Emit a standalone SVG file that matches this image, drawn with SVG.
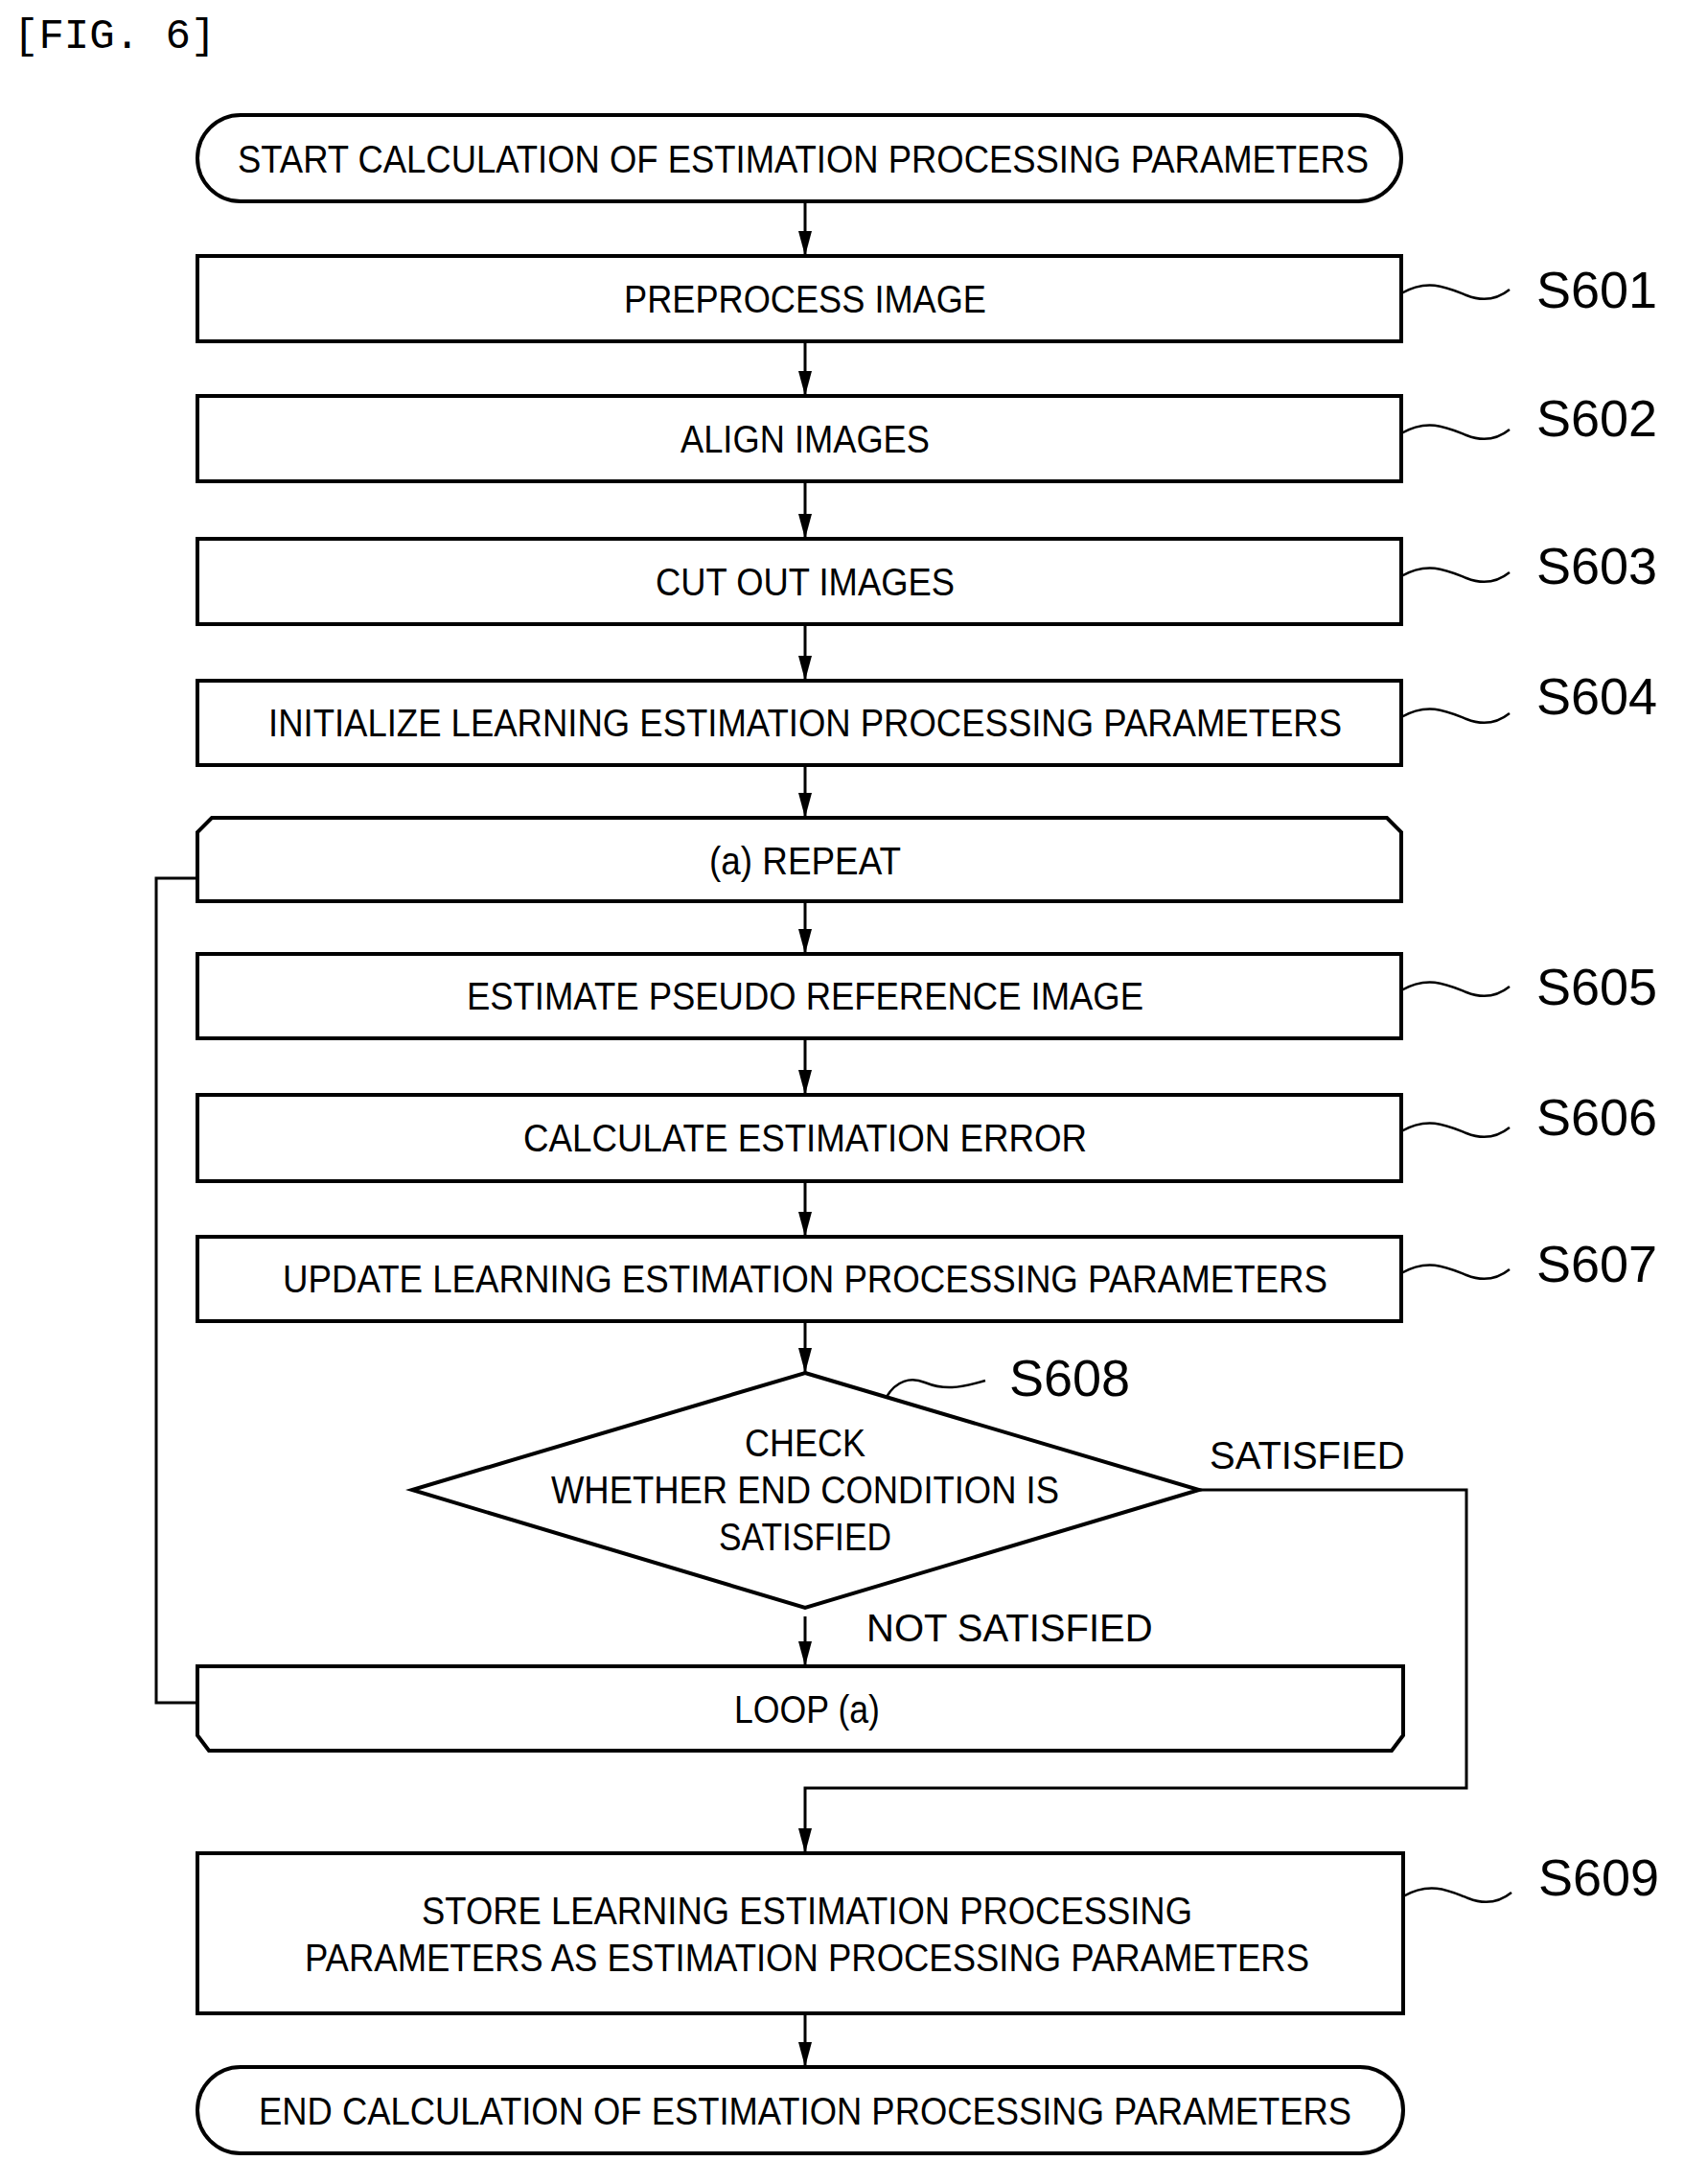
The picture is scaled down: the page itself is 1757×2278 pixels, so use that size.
<svg xmlns="http://www.w3.org/2000/svg" width="1757" height="2278" viewBox="0 0 1757 2278">
<style>
.b{fill:#fff;stroke:#000;stroke-width:4}
.t{font-family:"Liberation Sans",Arial,sans-serif;font-size:40px;text-anchor:middle;dominant-baseline:central;fill:#000}
.s{font-family:"Liberation Sans",Arial,sans-serif;font-size:54px;fill:#000;dominant-baseline:central}
.c{fill:none;stroke:#000;stroke-width:3}
.w{fill:none;stroke:#000;stroke-width:2.5}
</style>
<defs><path id="h" d="M-7,-26 L7,-26 L0,0 Z" fill="#000"/></defs>
<text x="14" y="38" style="font-family:'Liberation Mono',monospace;font-size:44px" dominant-baseline="central">[FIG. 6]</text>
<g id="connectors">
<path class="c" d="M840,210 V267"/><use href="#h" x="840" y="267"/>
<path class="c" d="M840,356 V413"/><use href="#h" x="840" y="413"/>
<path class="c" d="M840,502 V562"/><use href="#h" x="840" y="562"/>
<path class="c" d="M840,651 V710"/><use href="#h" x="840" y="710"/>
<path class="c" d="M840,798 V853"/><use href="#h" x="840" y="853"/>
<path class="c" d="M840,940 V995"/><use href="#h" x="840" y="995"/>
<path class="c" d="M840,1083 V1142"/><use href="#h" x="840" y="1142"/>
<path class="c" d="M840,1232 V1290"/><use href="#h" x="840" y="1290"/>
<path class="c" d="M840,1378 V1432"/><use href="#h" x="840" y="1432"/>
<path class="c" d="M840,1686 V1738"/><use href="#h" x="840" y="1738"/>
<path class="c" d="M206,1776 H163 V916 H206"/>
<path class="c" d="M1251,1554 H1530 V1865 H840 V1933"/><use href="#h" x="840" y="1933"/>
<path class="c" d="M840,2100 V2156"/><use href="#h" x="840" y="2156"/>
<text x="1262" y="1518" class="t" style="text-anchor:start">SATISFIED</text>
<text x="904" y="1698" class="t" style="text-anchor:start">NOT SATISFIED</text>
</g>
<g id="start"><rect class="b" x="206" y="120" width="1256" height="90" rx="45"/><text class="t" x="838" y="166" textLength="1180" lengthAdjust="spacingAndGlyphs">START CALCULATION OF ESTIMATION PROCESSING PARAMETERS</text></g>
<g id="s601"><rect class="b" x="206" y="267" width="1256" height="89"/><text class="t" x="840" y="312" textLength="378" lengthAdjust="spacingAndGlyphs">PREPROCESS IMAGE</text>
<path class="w" d="M1462,306 C1490,290 1510,300 1530,308 C1550,316 1565,310 1575,302"/><text class="s" x="1603" y="302">S601</text></g>
<g id="s602"><rect class="b" x="206" y="413" width="1256" height="89"/><text class="t" x="840" y="458" textLength="260" lengthAdjust="spacingAndGlyphs">ALIGN IMAGES</text>
<path class="w" d="M1462,452 C1490,436 1510,446 1530,454 C1550,462 1565,456 1575,448"/><text class="s" x="1603" y="436">S602</text></g>
<g id="s603"><rect class="b" x="206" y="562" width="1256" height="89"/><text class="t" x="840" y="607" textLength="312" lengthAdjust="spacingAndGlyphs">CUT OUT IMAGES</text>
<path class="w" d="M1462,601 C1490,585 1510,595 1530,603 C1550,611 1565,605 1575,597"/><text class="s" x="1603" y="590">S603</text></g>
<g id="s604"><rect class="b" x="206" y="710" width="1256" height="88"/><text class="t" x="840" y="754" textLength="1120" lengthAdjust="spacingAndGlyphs">INITIALIZE LEARNING ESTIMATION PROCESSING PARAMETERS</text>
<path class="w" d="M1462,748 C1490,732 1510,742 1530,750 C1550,758 1565,752 1575,744"/><text class="s" x="1603" y="726">S604</text></g>
<g id="repeat"><path class="b" d="M206,940 V868 L221,853 H1447 L1462,868 V940 Z"/><text class="t" x="840" y="898" textLength="200" lengthAdjust="spacingAndGlyphs">(a) REPEAT</text></g>
<g id="s605"><rect class="b" x="206" y="995" width="1256" height="88"/><text class="t" x="840" y="1039" textLength="706" lengthAdjust="spacingAndGlyphs">ESTIMATE PSEUDO REFERENCE IMAGE</text>
<path class="w" d="M1462,1033 C1490,1017 1510,1027 1530,1035 C1550,1043 1565,1037 1575,1029"/><text class="s" x="1603" y="1029">S605</text></g>
<g id="s606"><rect class="b" x="206" y="1142" width="1256" height="90"/><text class="t" x="840" y="1187" textLength="588" lengthAdjust="spacingAndGlyphs">CALCULATE ESTIMATION ERROR</text>
<path class="w" d="M1462,1180 C1490,1164 1510,1174 1530,1182 C1550,1190 1565,1184 1575,1176"/><text class="s" x="1603" y="1165">S606</text></g>
<g id="s607"><rect class="b" x="206" y="1290" width="1256" height="88"/><text class="t" x="840" y="1334" textLength="1090" lengthAdjust="spacingAndGlyphs">UPDATE LEARNING ESTIMATION PROCESSING PARAMETERS</text>
<path class="w" d="M1462,1328 C1490,1312 1510,1322 1530,1330 C1550,1338 1565,1332 1575,1324"/><text class="s" x="1603" y="1318">S607</text></g>
<g id="s608"><path class="b" d="M840,1432 L1251,1554 L840,1677 L430,1554 Z"/>
<text class="t" x="840" y="1505" textLength="126" lengthAdjust="spacingAndGlyphs">CHECK</text>
<text class="t" x="840" y="1554" textLength="530" lengthAdjust="spacingAndGlyphs">WHETHER END CONDITION IS</text>
<text class="t" x="840" y="1603" textLength="180" lengthAdjust="spacingAndGlyphs">SATISFIED</text>
<path class="w" d="M925,1457 C935,1440 950,1436 965,1442 C985,1450 1000,1448 1028,1440"/><text class="s" x="1053" y="1437">S608</text></g>
<g id="loop"><path class="b" d="M206,1738 H1464 V1810 L1452,1826 H218 L206,1810 Z"/><text class="t" x="842" y="1783" textLength="152" lengthAdjust="spacingAndGlyphs">LOOP (a)</text></g>
<g id="s609"><rect class="b" x="206" y="1933" width="1258" height="167"/>
<text class="t" x="842" y="1993" textLength="804" lengthAdjust="spacingAndGlyphs">STORE LEARNING ESTIMATION PROCESSING</text>
<text class="t" x="842" y="2042" textLength="1048" lengthAdjust="spacingAndGlyphs">PARAMETERS AS ESTIMATION PROCESSING PARAMETERS</text>
<path class="w" d="M1464,1978 C1492,1962 1512,1972 1532,1980 C1552,1988 1567,1982 1577,1974"/><text class="s" x="1605" y="1958">S609</text></g>
<g id="end"><rect class="b" x="206" y="2156" width="1258" height="90" rx="45"/><text class="t" x="840" y="2202" textLength="1140" lengthAdjust="spacingAndGlyphs">END CALCULATION OF ESTIMATION PROCESSING PARAMETERS</text></g>
</svg>
